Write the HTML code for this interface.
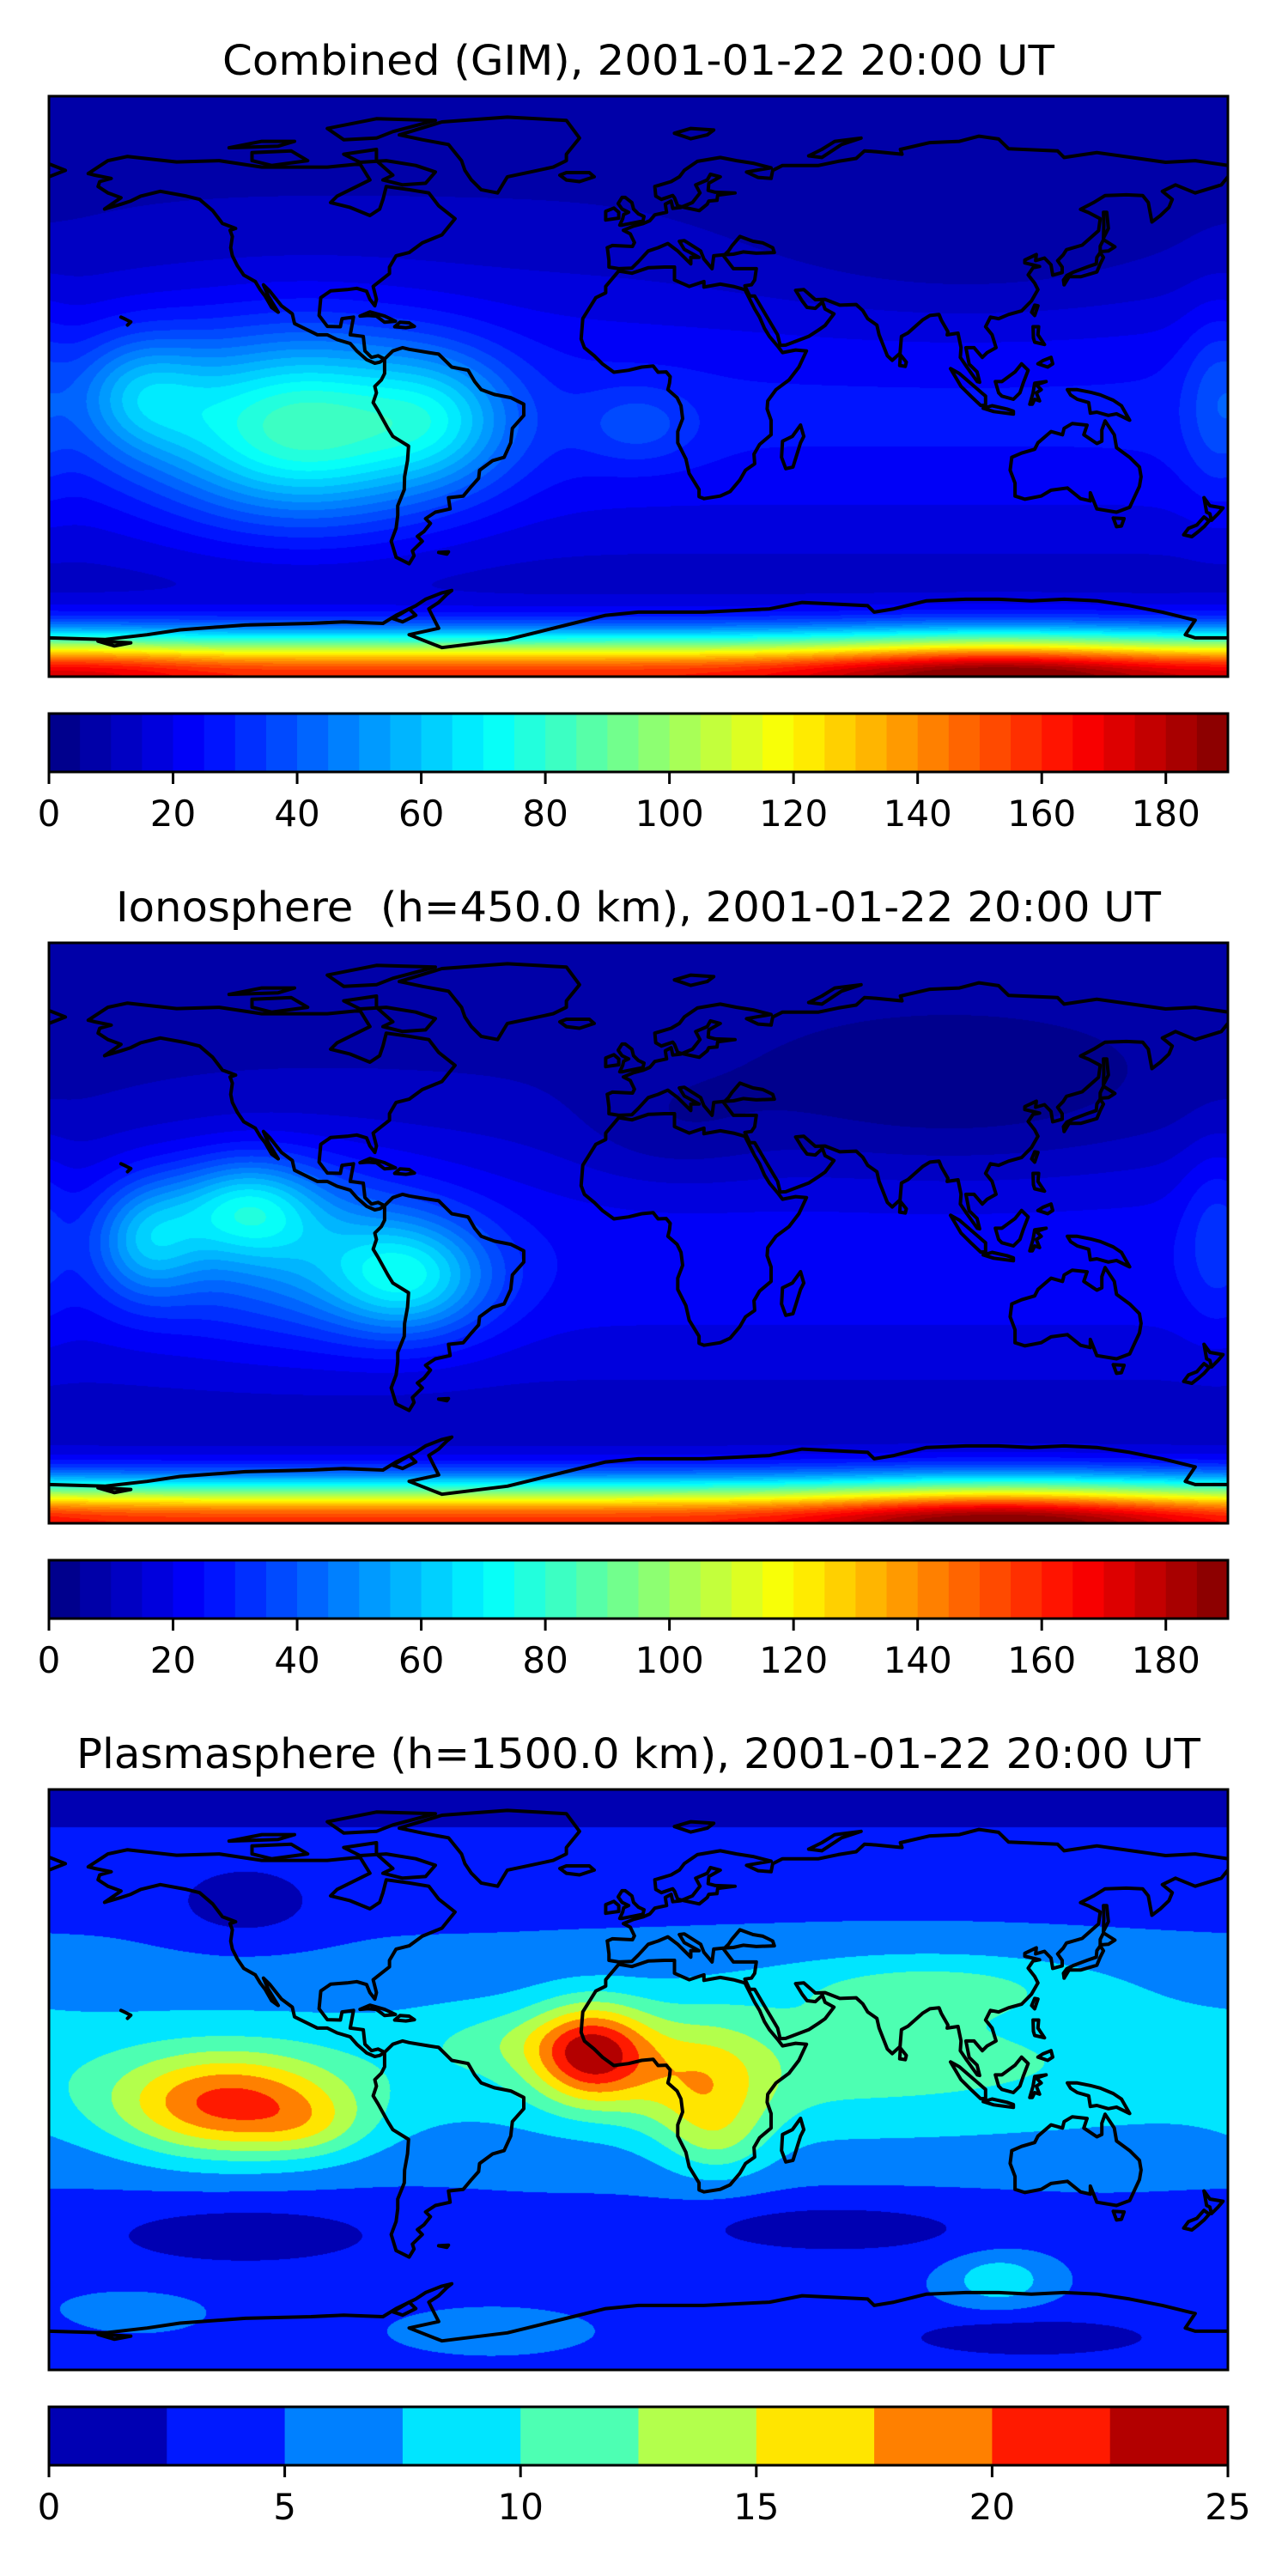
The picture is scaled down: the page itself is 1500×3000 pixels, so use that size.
<!DOCTYPE html>
<html><head><meta charset="utf-8">
<style>
html,body{margin:0;padding:0;background:#fff;}
body{width:1500px;height:3000px;position:relative;overflow:hidden;font-family:"DejaVu Sans","Liberation Sans",sans-serif;}
canvas{position:absolute;left:57px;width:1373px;height:676px;}
svg{position:absolute;left:0;top:0;}
svg text{white-space:pre;}
</style></head>
<body>
<canvas id="map-1" width="1373" height="676" style="top:112px"></canvas>
<canvas id="map-2" width="1373" height="676" style="top:1098px"></canvas>
<canvas id="map-3" width="1373" height="676" style="top:2084px"></canvas>
<svg id="overlay" width="1500" height="3000" xmlns="http://www.w3.org/2000/svg"></svg>
<script>
// ---------- Data ----------
const titles = ["Combined (GIM), 2001-01-22 20:00 UT","Ionosphere  (h=450.0 km), 2001-01-22 20:00 UT","Plasmasphere (h=1500.0 km), 2001-01-22 20:00 UT"];
const titleWidths = [969, 1217, 1309];
const vmax = [190, 190, 25];
const levelStep = [5, 5, 2.5];
const tickLabels1 = [0,20,40,60,80,100,120,140,160,180];
const tickLabels2 = [0,20,40,60,80,100,120,140,160,180];
const tickLabels3 = [0,5,10,15,20,25];
// background field: b0 + b1*exp(-((lat-bLat)/bS)^2)
const base1 = [8, 18, -8, 45];
const base2 = [7, 16, -8, 45];
const base3 = [4.5, 3.5, 5, 28];
// blobs: lon, lat, amplitude, sigma-lon, sigma-lat
const blobLon1 = [-102,-152,-60,0,176,100,0,110,-165];
const blobLat1 = [-13,-2,-10,-12,-5,40,-90,-90,-90];
const blobAmp1 = [58,25,22,12,10,-7,150,35,10];
const blobSLon1 = [45,20,22,18,10,70,10000,55,30];
const blobSLat1 = [28,18,20,12,30,25,13,13,13];

const blobLon2 = [-70,-120,-150,-105,95,10,176,0,110];
const blobLat2 = [-14,8,-2,-5,40,30,0,-90,-90];
const blobAmp2 = [40,36,30,25,-10,-6,10,150,35];
const blobSLon2 = [25,22,16,42,75,30,10,10000,55];
const blobSLat2 = [18,15,18,26,25,18,28,13,13];

const blobLon3 = [60,90,-125,-100,-14,20,25,-120,-120,60,120,0,110,-45,-155,-40];
const blobLat3 = [5,30,-8,-15,8,-3,-20,55,-48,-46,-80,90,-62,-78,-72,12];
const blobAmp3 = [3,4,13.5,3,14.5,7,3,-4,-3.5,-3.5,-3.5,-4,5,2.5,2,2.5];
const blobSLon3 = [100,50,35,18,18,20,15,22,50,50,45,10000,15,25,20,25];
const blobSLat3 = [25,10,16,10,15,20,12,11,11,9,7,14,8,6,6,10];

// coastlines [lon,lat] polylines
const coasts = [
[[-168,66],[-162,70],[-156,71.3],[-141,69.6],[-128,70],[-115,68],[-95,68],[-85,69],[-82,64],[-92,59],[-94,57],[-88,55.5],[-82,53],[-79,55],[-78,58],[-77,62],[-70,61],[-64,60],[-61,56],[-56,52],[-60,47],[-66,44.5],[-70,41.5],[-74,40.5],[-76,37],[-76,35],[-81,31],[-80,27],[-80.5,25],[-82,27],[-83,29.5],[-86,30.4],[-89,30],[-94,29.6],[-97,27.5],[-97.5,22],[-95,18.6],[-91,18.5],[-90.5,21],[-87,21.5],[-88,16],[-84,15.5],[-83.5,11],[-81.5,9],[-79.5,9.5],[-77.5,8.5],[-79,7.5],[-80.5,7.2],[-83,8.3],[-86,11],[-88,13.3],[-92,14.5],[-95,16],[-98,16],[-105,19.5],[-105.7,22.5],[-109,25],[-112.5,29.5],[-114.5,31.5],[-113,28],[-110,23],[-112,24.5],[-114,28],[-115.5,30],[-117,32.5],[-120.5,34.5],[-122.5,37.5],[-124,40.5],[-124.5,43],[-124,46.5],[-124.7,48.4],[-123,49],[-127,50.5],[-130,54.5],[-134,58],[-138,59],[-146,60.5],[-152,59],[-155,57.5],[-158,56.5],[-163,55],[-158,58.5],[-162,60],[-165,62],[-164.5,63.5],[-161,64.5],[-166,65.5],[-168,66]],
[[-73,78],[-60,82],[-40,83.5],[-22,82.5],[-18,77],[-22,72],[-22,70],[-26,68],[-33,66.5],[-40,65],[-43,60],[-48,61],[-51,64],[-53,67],[-54,70],[-58,75],[-66,76.5],[-73,78]],
[[-80,73.5],[-90,72],[-85,69.5],[-77,70],[-68,68.5],[-62,66.5],[-65,63],[-72,62.5],[-78,64],[-75,65.5],[-80,70],[-80,73.5]],
[[-90,76.5],[-95,80],[-80,83],[-62,82.5],[-75,79],[-80,77],[-90,76.5]],
[[-118,72.5],[-106,73],[-101,70],[-112,68.5],[-118,70],[-118,72.5]],
[[-125,74],[-115,76],[-105,76],[-110,74.5],[-125,74]],
[[-77.5,8.5],[-75,11],[-72,12],[-70,11.5],[-64,10.5],[-61,10],[-57,6],[-52,5],[-50,1.5],[-48,-1],[-44,-2.5],[-39,-3.5],[-35,-5.5],[-35,-9],[-38.5,-13],[-39,-17.5],[-41,-22],[-44.5,-23],[-48.5,-26],[-48.8,-28.5],[-51,-31],[-53.5,-34],[-58,-34.5],[-57.5,-38],[-62,-39],[-65,-41],[-63.5,-42.5],[-65.5,-45],[-67.5,-46.5],[-66,-48],[-69,-51],[-68.5,-52.5],[-70,-55],[-74,-53],[-75.5,-48],[-74,-44],[-73.5,-40],[-73.5,-37],[-71.5,-32],[-71.4,-28],[-70.5,-23],[-70.2,-18.5],[-75,-15.5],[-76.5,-13],[-79.5,-7.5],[-81,-5],[-80,-2],[-80.5,0],[-78.5,2],[-77.5,4],[-77.5,7],[-77.5,8.5]],
[[-6,35.8],[-10,31],[-10,29],[-13,27.5],[-17,21],[-17.5,14.7],[-16.5,12],[-13.5,9.5],[-11,7],[-7.5,4.4],[-3,5],[1,6],[4.5,6.3],[6,4.4],[8.5,4.5],[9.7,3],[9.5,1],[9,-1],[11.8,-3.5],[13,-6],[13.5,-10],[12,-14],[12,-17.5],[14.5,-22.5],[15.5,-27],[18.5,-32],[18.5,-34.2],[20,-34.8],[25,-34],[28,-32.6],[31,-29],[32.7,-26],[35.5,-24],[35.3,-21],[37,-18],[40.5,-15],[40.5,-10.5],[39.3,-7],[39.5,-4.5],[42,-1],[46,2],[49,6],[51.3,11],[48,11.3],[44,10.5],[42.5,12.5],[40,15.5],[38.5,18],[37,21.5],[35.5,24],[33.5,28],[32.5,30],[29,31],[25,31.7],[20,30.8],[20,32.5],[15.5,31],[11,33],[11,37],[8,37],[3,36.8],[-2,35.1],[-6,35.8]],
[[49.5,-12],[50.5,-15.5],[49.5,-17.5],[47.2,-25],[45,-25.5],[43.7,-22],[44,-17],[47,-15.5],[49.5,-12]],
[[-9.5,43],[-9,39],[-9,37],[-6,36.5],[-2,36.7],[0,38.7],[3,42],[6,43],[9,44.3],[12,42],[16,38],[16,40],[18.5,40],[14,42.5],[12.5,45],[14,45.2],[19,42],[20,39.5],[22.5,36.5],[23,40.5],[26,40.8],[29,41],[32,41.7],[36,41.3],[41.5,41.5],[41,43],[38,44.5],[35,45],[31,46.5],[28.5,43.5],[27.5,42],[26,40.5],[29,36.5],[36,36.5],[35.5,33],[34.5,31.5],[32.5,31.2],[34,28],[35.5,28],[39,22],[42.5,16],[43.3,12.7],[45,12.8],[52,15.5],[55,17.5],[57,18.9],[59.7,22.5],[57,24],[56.2,26.2],[54,24.2],[51.5,24.5],[50,26.5],[48,29.8],[50.5,30],[54,26.9],[57,27],[61.5,25.2],[66.5,25.4],[68.5,23.5],[70,21],[72.8,19],[73.5,16],[76,9.5],[77.5,8.1],[79.9,10.3],[80.3,15.5],[82.3,16.6],[86.9,20.7],[89,22],[91.8,22.3],[92.5,20.5],[94.5,17],[94.3,16],[97.6,16.5],[98.5,12],[98.3,9],[100.3,6],[103.5,1.5],[104.2,1.3],[103.4,4.5],[101,6.9],[100,12],[102.5,12],[105,9],[106.5,10.5],[109.2,12],[108,16],[106,18.5],[107.5,21.5],[110,21],[113,22.3],[117,23.4],[120,26.5],[122,30],[121,32],[119,34.6],[120.5,36.8],[122.5,37.2],[118,38.3],[118,39.2],[121.5,40.9],[121.3,39],[124,39.8],[126,37.7],[126.5,34.5],[129.4,35.3],[129.4,37],[128,39],[129.7,40.8],[130.7,42.4],[135.5,43.8],[140.5,48.3],[141,52],[137.5,53.9],[135,54.9],[139,57],[142.5,59.2],[149,59.4],[154,59.2],[155.7,57],[156.8,51],[159.4,53],[162,55.5],[163,58],[160,60.5],[164,62.5],[170,60],[178,62.5],[180,65]],
[[180,68.5],[170,70],[161,69.5],[152,70.8],[140,72.5],[130,71],[128,73],[113,73.7],[110,76.7],[104,77.6],[98,76],[89,75.6],[80,73.5],[80.5,72],[72.5,72.8],[69,73],[66.5,70.7],[61,69.8],[55,68.5],[44,68.5],[41,67],[40.5,64.5],[36.5,64.8],[33,66.5],[40.5,67.8],[35,69.2],[30,70],[25,71],[18,69.8],[14,67],[12.5,65],[10,63.5],[5,62],[5.3,59],[7,58],[10.5,59.2],[11,58.5],[12,56],[14,55.5],[18.6,54.5],[21,56.5],[21.5,57.5],[24,57.7],[24.2,59.3],[29.5,60],[23.5,60.2],[21.3,60.8],[21.5,63],[25,65],[22,65.8],[21,64],[17.5,62.5],[18.8,60],[16.5,57],[12.9,55.5],[10.5,55.2],[10,57.5],[8.2,56.5],[8.6,54],[5,53.2],[3.5,51.4],[1.5,50.5],[-1.5,49.7],[-4.6,48.4],[-2.5,47.3],[-1.2,44.6],[-1.8,43.4],[-8,43.7],[-9.5,43]],
[[-180,65],[-175,67],[-180,69]],
[[-5,50],[1.4,51.3],[1.7,52.7],[0,53.5],[-1.5,55],[-2,57],[-4,58.6],[-5,58.6],[-6.2,56.7],[-5,55],[-3,54],[-4.5,53.3],[-4.8,52],[-5.7,50],[-5,50]],
[[-6,52.2],[-6,54],[-7.5,55.3],[-10,54.3],[-10,51.6],[-6,52.2]],
[[130,31.5],[131.5,34],[135,34],[137,34.6],[140,35.5],[141,38],[142,40],[141,41.5],[140,40],[139.8,38],[137,37],[133,35.5],[130.8,34.4],[129.8,33],[130,31.5]],
[[141,41.8],[143.5,42],[145.5,43.3],[142,45.5],[141,43.5],[141,41.8]],
[[142,46],[143.5,49],[143,54],[142,54],[142.1,50],[142,46]],
[[114,-22],[113.5,-26],[115,-30],[115,-34],[118,-35],[123,-34],[126,-32.2],[131,-31.5],[135,-34.8],[138,-35.5],[138,-33],[140,-38],[146,-39],[150,-37.5],[153,-31],[153.5,-28],[153,-25],[150,-22],[146,-19],[145.3,-15],[142.5,-10.7],[141.5,-13.5],[141.5,-17],[140,-17.7],[136,-15],[137,-12],[132.5,-11.5],[130,-13],[129.5,-15],[126,-14],[122,-17.5],[121,-19.5],[117,-20.7],[114,-22]],
[[145,-40.8],[148.3,-41],[147.5,-43.3],[146,-43.5],[145,-40.8]],
[[172.7,-34.5],[174.5,-37],[178.5,-37.7],[177,-39.5],[175,-41.5],[174.5,-39.5],[173.5,-39],[172.7,-34.5]],
[[172.7,-40.5],[174.3,-41.7],[172.7,-43.5],[171,-45],[169,-46.6],[166.5,-46],[168,-44],[170.5,-43],[172.7,-40.5]],
[[95.3,5.5],[98,4],[103.7,-1],[106,-3],[106,-5.8],[104.5,-5.9],[101.5,-3],[98.5,0],[95.3,5.5]],
[[109,1.5],[110,-2],[111,-3],[114.5,-4],[116.5,-2],[117.5,1],[119,5],[117,7],[115,4.5],[113,3],[111,1.5],[109,1.5]],
[[105.3,-6.8],[108,-6],[112.5,-7],[114.5,-7.7],[114.5,-8.6],[108.5,-7.8],[105.3,-6.8]],
[[119.5,-5.5],[120.5,-2],[121,1],[124.5,1.5],[121.5,0.5],[123,-1],[121.5,-2],[122.5,-4.5],[121,-4],[120.3,-5.5],[119.5,-5.5]],
[[131,-1],[134,-1],[138,-1.8],[141,-2.6],[145,-4.3],[147.5,-6],[150,-10.5],[146,-8.5],[143.5,-9],[140,-8],[138,-8.3],[137.5,-5],[134,-4],[132,-2.7],[131,-1]],
[[120.5,18.5],[122.2,18.5],[122,16],[124,13],[121,13.7],[120.6,15],[120.5,18.5]],
[[122,7],[125,6],[126.5,7],[126,9],[123.5,8],[122,7]],
[[120.1,23],[121,22],[122,25],[121,25.2],[120.1,23]],
[[79.8,6.5],[81.5,6.2],[81.8,7.5],[80,9.8],[79.8,6.5]],
[[-85,21.8],[-82,23.1],[-77.5,21.8],[-74.2,20.2],[-77.5,19.9],[-80,21.8],[-82.6,22],[-85,21.8]],
[[-74.4,18.5],[-72.8,19.9],[-70,19.7],[-68.4,18.6],[-71,18.2],[-74.4,18.5]],
[[-22,64],[-24,65.5],[-22,66.3],[-15,66.3],[-13.5,65],[-18,63.5],[-22,64]],
[[11,78.5],[16,80],[23,79.5],[21,78],[16,76.8],[11,78.5]],
[[52,71.5],[56,73.5],[60,76],[68,77],[62,75],[56,71],[52,71.5]],
[[-156,19],[-155,20],[-156,20.5],[-157,21],[-158,21.5]],
[[-61,-51.5],[-58,-51.3],[-58.5,-52],[-61,-51.5]],
[[-180,-78],[-163,-78.5],[-150,-77],[-140,-75.5],[-120,-74],[-100,-73.5],[-90,-73],[-78,-73.5],[-74,-71],[-68,-68],[-65,-66],[-60,-64],[-57,-63.3],[-58.5,-64.5],[-61,-67],[-64,-69],[-62,-73],[-61,-75],[-70,-77],[-60,-81],[-40,-78.5],[-30,-76],[-20,-73.5],[-10,-71],[0,-70],[10,-70],[20,-70],[30,-69.5],[40,-69],[50,-67],[60,-67.5],[70,-68],[72,-70],[78,-69],[88,-66.5],[100,-66],[110,-66],[120,-66.5],[130,-66],[140,-66.5],[150,-68],[160,-70],[168,-72],[170,-72.5],[167,-77],[170,-78],[180,-78]],
[[-75,-72],[-70,-69],[-68,-71],[-72,-73],[-75,-72]],
[[-165,-79],[-155,-79.5],[-160,-80.5],[-165,-79]]
];

// ---------- Geometry ----------
const MAP_X = 57, MAP_W = 1373, MAP_H = 676;
const panelTop = [112, 1098, 2084];
function xOfLon(lon){ return MAP_X + (lon + 180) / 360 * MAP_W; }
function yOfLat(lat, p){ return panelTop[p] + (90 - lat) / 180 * MAP_H; }

function clamp(v){ return v < 0 ? 0 : v > 1 ? 1 : v; }
function jet(t){
  return [clamp(Math.min(4*t-1.5, -4*t+4.5)), clamp(Math.min(4*t-0.5, -4*t+3.5)), clamp(Math.min(4*t+0.5, -4*t+2.5))];
}
function levelColor(v, p){
  const n = Math.round(vmax[p] / levelStep[p]);
  let i = Math.floor(v / levelStep[p]);
  if (i < 0) i = 0;
  if (i > n-1) i = n-1;
  return jet((i + 0.5) / n);
}

const bases = [base1, base2, base3];
const blobsets = [
  [blobLon1, blobLat1, blobAmp1, blobSLon1, blobSLat1],
  [blobLon2, blobLat2, blobAmp2, blobSLon2, blobSLat2],
  [blobLon3, blobLat3, blobAmp3, blobSLon3, blobSLat3]
];

function drawField(p){
  const cv = document.getElementById('map-' + (p+1));
  const ctx = cv.getContext('2d');
  const W = cv.width, H = cv.height;
  const img = ctx.createImageData(W, H);
  const bs = blobsets[p], b = bases[p];
  const nb = bs[0].length;
  const fx = [], fy = [];
  for (let k = 0; k < nb; k++){
    const ax = new Float32Array(W), ay = new Float32Array(H);
    for (let x = 0; x < W; x++){
      const lon = -180 + (x + 0.5) / W * 360;
      const d = ((lon - bs[0][k] + 540) % 360) - 180;
      ax[x] = Math.exp(-Math.pow(d / bs[3][k], 2));
    }
    for (let y = 0; y < H; y++){
      const lat = 90 - (y + 0.5) / H * 180;
      ay[y] = bs[2][k] * Math.exp(-Math.pow((lat - bs[1][k]) / bs[4][k], 2));
    }
    fx.push(ax); fy.push(ay);
  }
  for (let y = 0; y < H; y++){
    const lat = 90 - (y + 0.5) / H * 180;
    const bv = b[0] + b[1] * Math.exp(-Math.pow((lat - b[2]) / b[3], 2));
    for (let x = 0; x < W; x++){
      let v = bv;
      for (let k = 0; k < nb; k++) v += fx[k][x] * fy[k][y];
      const c = levelColor(v, p);
      const o = (y * W + x) * 4;
      img.data[o] = c[0]*255; img.data[o+1] = c[1]*255; img.data[o+2] = c[2]*255; img.data[o+3] = 255;
    }
  }
  ctx.putImageData(img, 0, 0);
}

const NS = 'http://www.w3.org/2000/svg';
const svg = document.getElementById('overlay');
function el(tag, attrs, parent){
  const e = document.createElementNS(NS, tag);
  for (const k in attrs) e.setAttribute(k, attrs[k]);
  (parent || svg).appendChild(e);
  return e;
}

const tickSets = [tickLabels1, tickLabels2, tickLabels3];
const panelNames = ['combined', 'ionosphere', 'plasmasphere'];
for (let p = 0; p < 3; p++){
  try { drawField(p); } catch (err) { console.log(err); }
  const top = panelTop[p];
  const g = el('g', {});
  
  
  const t = el('text', {x: MAP_X + MAP_W/2, y: top - 25, 'text-anchor':'middle', 'font-size':'48', 'font-family':'DejaVu Sans, Liberation Sans, sans-serif', fill:'#000', textLength: titleWidths[p], lengthAdjust:'spacingAndGlyphs'}, g);
  t.textContent = titles[p];
  
  
  const clipId = 'clip' + p;
  const cp = el('clipPath', {id: clipId}, g);
  el('rect', {x: MAP_X, y: top, width: MAP_W, height: MAP_H}, cp);
  const cg = el('g', {'clip-path': 'url(#' + clipId + ')'}, g);
  
  
  for (const line of coasts){
    const d = line.map((pt, i) => (i ? 'L' : 'M') + xOfLon(pt[0]).toFixed(1) + ' ' + yOfLat(pt[1], p).toFixed(1)).join(' ');
    const path = el('path', {d: d, fill: 'none', stroke: '#000', 'stroke-width': '4', 'stroke-linejoin': 'round', 'stroke-linecap': 'round'}, cg);
    
    
  }
  const frame = el('rect', {x: MAP_X, y: top, width: MAP_W, height: MAP_H, fill: 'none', stroke: '#000', 'stroke-width': '3'}, g);
  
  
  const cbTop = top + 719, cbH = 68;
  const cb = el('g', {}, g);
  
  
  const n = Math.round(vmax[p] / levelStep[p]);
  const sx = v => MAP_X + v / vmax[p] * MAP_W;
  for (let i = 0; i < n; i++){
    const c = jet((i + 0.5) / n);
    const r = el('rect', {x: sx(i*levelStep[p]).toFixed(2), y: cbTop, width: (sx((i+1)*levelStep[p]) - sx(i*levelStep[p]) + 0.6).toFixed(2), height: cbH, fill: 'rgb(' + c.map(q => Math.round(q*255)).join(',') + ')'}, cb);
    
    
  }
  el('rect', {x: MAP_X, y: cbTop, width: MAP_W, height: cbH, fill: 'none', stroke: '#000', 'stroke-width': '3'}, cb);
  for (const tv of tickSets[p]){
    const x = sx(tv);
    el('line', {x1: x, x2: x, y1: cbTop + cbH, y2: cbTop + cbH + 14, stroke: '#000', 'stroke-width': '3'}, cb);
    const tl = el('text', {x: x, y: cbTop + cbH + 63, 'text-anchor': 'middle', 'font-size': '42', 'font-family': 'DejaVu Sans, Liberation Sans, sans-serif', fill: '#000'}, cb);
    tl.textContent = String(tv);
    
    
  }
}
</script>
</body></html>
